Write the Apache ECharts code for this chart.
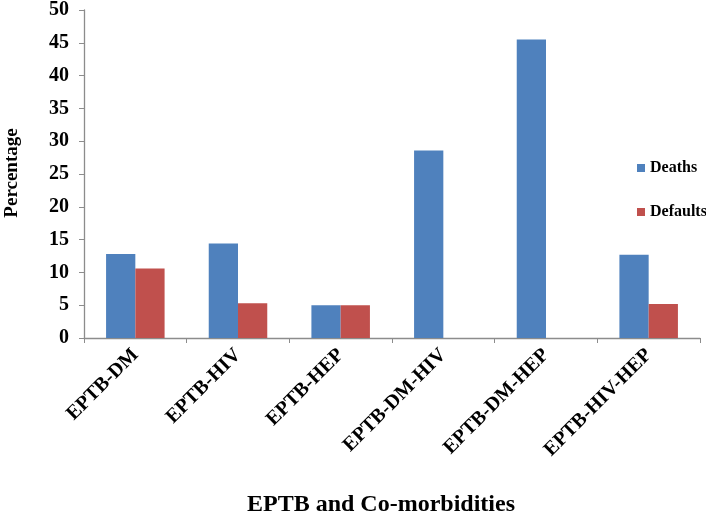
<!DOCTYPE html>
<html>
<head>
<meta charset="utf-8">
<script src="https://cdn.jsdelivr.net/npm/echarts@6/dist/echarts.min.js"></script>
<style>
html,body{margin:0;padding:0;background:#fff;}
#c{width:706px;height:514px;}
</style>
</head>
<body>
<div id="c"></div>
<script>
const categories = ['EPTB-DM', 'EPTB-HIV', 'EPTB-HEP', 'EPTB-DM-HIV', 'EPTB-DM-HEP', 'EPTB-HIV-HEP'];
const deaths = [12.8, 14.4, 5.0, 28.6, 45.5, 12.7];
const defaults = [10.6, 5.3, 5.0, 0, 0, 5.2];
const seriesNames = ['Deaths', 'Defaults'];
const yTitle = 'Percentage';
const xTitle = 'EPTB and Co-morbidities';

const FONT = '"Liberation Serif", "Times New Roman", serif';
const chart = echarts.init(document.getElementById('c'), null, {renderer: 'canvas'});
chart.setOption({
  animation: false,
  backgroundColor: '#fff',
  grid: {left: 84, right: 6, top: 7, bottom: 176, containLabel: false},
  legend: {
    orient: 'vertical', left: 637, top: 160, padding: 0,
    itemWidth: 8, itemHeight: 8, itemGap: 28,
    icon: 'rect',
    textStyle: {fontFamily: FONT, fontWeight: 'bold', fontSize: 16, color: '#000'},
    data: seriesNames
  },
  xAxis: {
    type: 'category',
    data: categories,
    axisLine: {lineStyle: {color: '#8c8c8c', width: 1.3}},
    axisTick: {show: true, length: 5, lineStyle: {color: '#8c8c8c'}},
    axisLabel: {rotate: 45, interval: 0, margin: 14, fontFamily: FONT, fontWeight: 'bold', fontSize: 20, color: '#000'}
  },
  yAxis: {
    type: 'value', min: 0, max: 50, interval: 5,
    splitLine: {show: false},
    axisLine: {show: true, lineStyle: {color: '#8c8c8c', width: 1.3}},
    axisTick: {show: true, length: 5, lineStyle: {color: '#8c8c8c'}},
    axisLabel: {margin: 15, fontFamily: FONT, fontWeight: 'bold', fontSize: 20, color: '#000'}
  },
  graphic: [
    {type: 'text', x: 12, y: 173, rotation: Math.PI / 2,
     style: {text: yTitle, font: 'bold 19px ' + FONT, fill: '#000', textAlign: 'center', textVerticalAlign: 'middle'}},
    {type: 'text', x: 381, y: 505,
     style: {text: xTitle, font: 'bold 24px ' + FONT, fill: '#000', textAlign: 'center', textVerticalAlign: 'middle'}}
  ],
  series: [
    {name: seriesNames[0], type: 'bar', data: deaths, barGap: '0%', barCategoryGap: '43%',
     itemStyle: {color: '#4F81BD'}},
    {name: seriesNames[1], type: 'bar', data: defaults, barGap: '0%', barCategoryGap: '43%',
     itemStyle: {color: '#C0504D'}}
  ]
});
</script>
</body>
</html>
